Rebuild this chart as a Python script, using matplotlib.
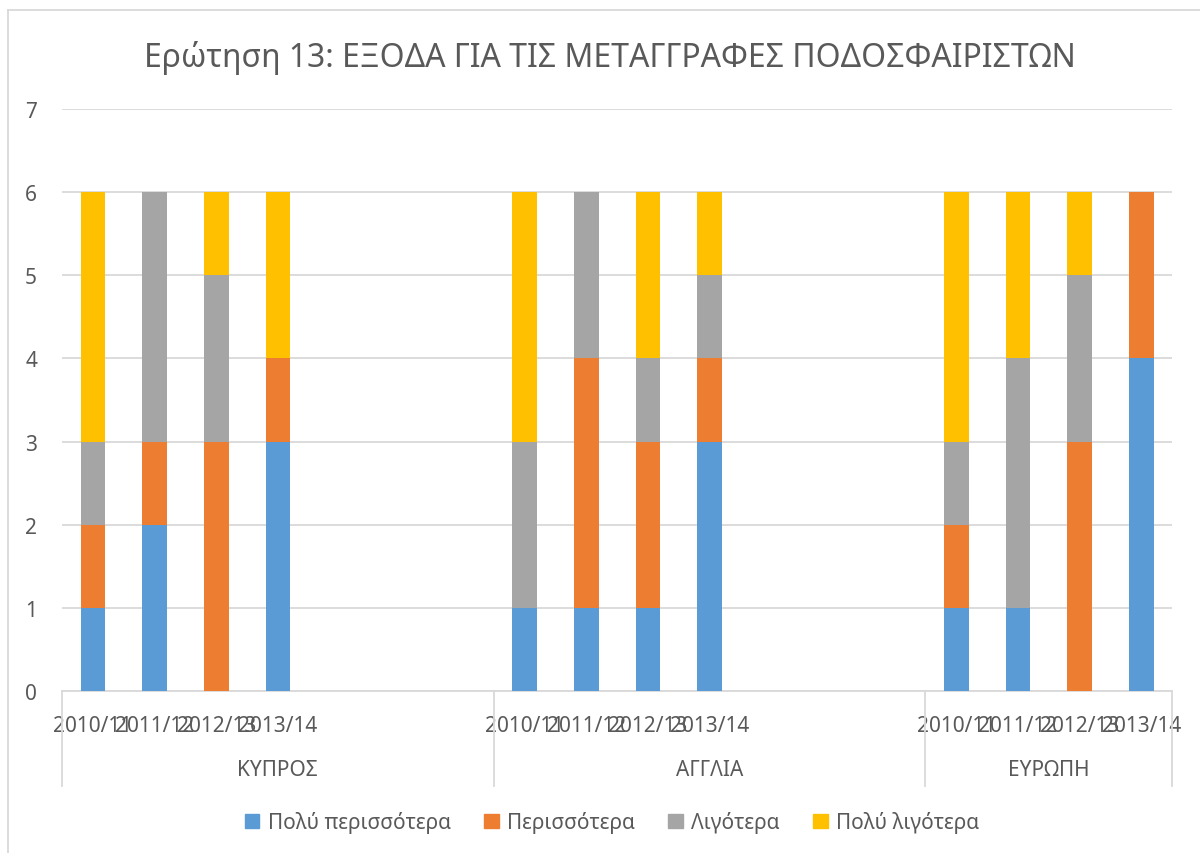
import matplotlib
matplotlib.use("Agg")
from matplotlib import pyplot as plt
from matplotlib.patches import Patch
import numpy as np

plt.rcParams['font.family'] = ['Noto Sans', 'DejaVu Sans']

title = "Ερώτηση 13: ΕΞΟΔΑ ΓΙΑ ΤΙΣ ΜΕΤΑΓΓΡΑΦΕΣ ΠΟΔΟΣΦΑΙΡΙΣΤΩΝ"
groups = ["ΚΥΠΡΟΣ", "ΑΓΓΛΙΑ", "ΕΥΡΩΠΗ"]
years = ["2010/11", "2011/12", "2012/13", "2013/14"]
# category slots per group on the axis (Excel left empty slots after the first two groups)
group_slots = [7, 7, 4]

series_names = ["Πολύ περισσότερα", "Περισσότερα", "Λιγότερα", "Πολύ λιγότερα"]
colors = ["#5B9BD5", "#ED7D31", "#A5A5A5", "#FFC000"]

# order: ΚΥΠΡΟΣ 4 years, ΑΓΓΛΙΑ 4 years, ΕΥΡΩΠΗ 4 years
poly_perissotera = [1, 2, 0, 3, 1, 1, 1, 3, 1, 1, 0, 4]
perissotera = [1, 1, 3, 1, 0, 3, 2, 1, 1, 0, 3, 2]
ligotera = [1, 3, 2, 0, 2, 2, 1, 1, 1, 3, 2, 0]
poly_ligotera = [3, 0, 1, 2, 3, 0, 2, 1, 3, 2, 1, 0]
values = [poly_perissotera, perissotera, ligotera, poly_ligotera]

text_col = "#595959"
line_col = "#D9D9D9"

# x positions of the bars
starts = np.cumsum([0] + group_slots[:-1])
pos = np.concatenate([s + np.arange(len(years)) for s in starts])
labels = years * len(groups)

fig = plt.figure(figsize=(12, 8.54), dpi=100)
ax = fig.add_axes([0.0517, 0.1897, 0.925, 0.6815])

bottom = np.zeros(len(pos))
for name, vals, c in zip(series_names, values, colors):
    ax.bar(pos, vals, width=0.4, bottom=bottom, color=c, label=name, zorder=3)
    bottom += np.array(vals)

ax.set_xlim(-0.5, sum(group_slots) - 0.5)
ax.set_ylim(0, 7)
ax.set_yticks(range(8))
ax.yaxis.grid(True, color=line_col, linewidth=1.3, zorder=0)
for s in ["top", "right", "left"]:
    ax.spines[s].set_visible(False)
ax.spines["bottom"].set_color(line_col)
ax.spines["bottom"].set_linewidth(1.3)
ax.tick_params(axis='y', length=0, labelsize=15, labelcolor=text_col, pad=18)
ax.set_xticks(pos, labels)
ax.tick_params(axis='x', length=0, labelsize=15, labelcolor=text_col, pad=17)

# group level of the category axis
trans = ax.get_xaxis_transform()
edges = np.concatenate([[0], np.cumsum(group_slots)]) - 0.5
for e in edges:
    ax.plot([e, e], [0, -0.163], transform=trans, color=line_col,
            linewidth=1.3, clip_on=False)
for g, lo, hi in zip(groups, edges[:-1], edges[1:]):
    ax.text((lo + hi) / 2, -0.135, g, transform=trans, ha='center',
            va='center', fontsize=15, color=text_col)

fig.text(0.508, 0.932, title, ha='center', va='center', fontsize=23,
         color=text_col)

handles = [Patch(color=c, label=n) for n, c in zip(series_names, colors)]
fig.legend(handles=handles, loc='center', bbox_to_anchor=(0.51, 0.036),
           ncol=4, frameon=False, fontsize=15, handlelength=0.7,
           handleheight=0.7, handletextpad=0.4, columnspacing=1.6,
           labelcolor=text_col)

# chart border (top and left visible in the reference)
fig.add_artist(plt.Line2D([0.007, 0.007], [0, 0.987], color=line_col,
                          linewidth=1.3, transform=fig.transFigure))
fig.add_artist(plt.Line2D([0.007, 1], [0.987, 0.987], color=line_col,
                          linewidth=1.3, transform=fig.transFigure))

fig.savefig("out.png", dpi=100)
